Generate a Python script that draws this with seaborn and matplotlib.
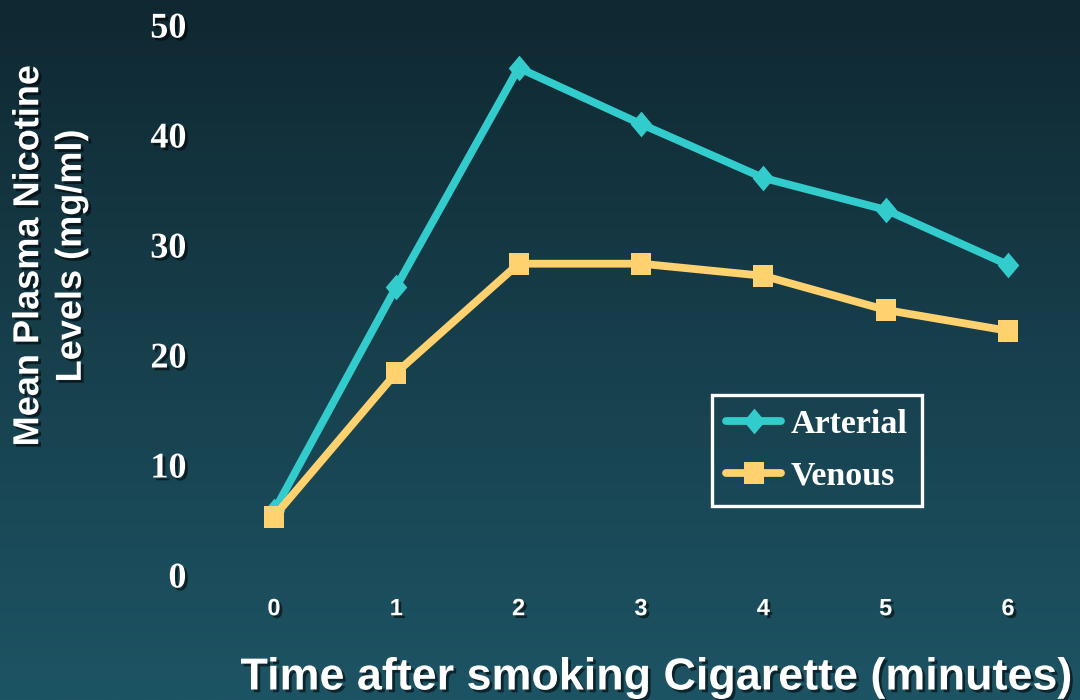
import numpy as np
import matplotlib
matplotlib.use("Agg")
import matplotlib.pyplot as plt
import matplotlib.patheffects as pe
from matplotlib.colors import LinearSegmentedColormap
from matplotlib.path import Path
import seaborn as sns

# Mean plasma nicotine after smoking one cigarette
minutes = [0, 1, 2, 3, 4, 5, 6]
arterial = [5.8, 26.2, 46.1, 41.0, 36.1, 33.2, 28.2]
venous = [5.3, 18.4, 28.3, 28.3, 27.2, 24.1, 22.2]
y_ticks = [0, 10, 20, 30, 40, 50]
series_names = ["Arterial", "Venous"]

sns.set_theme(style="white")
plt.rcParams["font.family"] = ["Liberation Sans", "DejaVu Sans"]

W, H = 1080, 700
fig = plt.figure(figsize=(W / 100, H / 100), dpi=100)

# vertical teal gradient behind everything
bg = fig.add_axes([0, 0, 1, 1], zorder=0)
grad = np.linspace(0, 1, 256).reshape(-1, 1)
cmap = LinearSegmentedColormap.from_list("bg", ["#0f2831", "#173f4c", "#1d5464"])
bg.imshow(grad, aspect="auto", cmap=cmap, extent=[0, 1, 0, 1], origin="upper")
bg.set_axis_off()

# plotting area: x 0..6 maps to px 274..1008, y 0..50 maps to px 575..25
left = 212.8 / W
width = 856.4 / W
bottom = (H - 575) / H
height = 550 / H
ax = fig.add_axes([left, bottom, width, height], zorder=1)
ax.patch.set_alpha(0)

cyan = "#33cccc"
gold = "#ffd16f"

# slightly tall diamond and slightly tall square markers
diamond = Path([(0, 0.5), (0.42, 0), (0, -0.5), (-0.42, 0), (0, 0.5)],
               [Path.MOVETO, Path.LINETO, Path.LINETO, Path.LINETO, Path.CLOSEPOLY])
block = Path([(-0.43, -0.5), (0.43, -0.5), (0.43, 0.5), (-0.43, 0.5), (-0.43, -0.5)],
             [Path.MOVETO, Path.LINETO, Path.LINETO, Path.LINETO, Path.CLOSEPOLY])

sns.lineplot(x=minutes, y=arterial, ax=ax, color=cyan, lw=5.6, marker=diamond,
             ms=18.5, mec=cyan, mew=0, label=series_names[0], clip_on=False, zorder=3)
sns.lineplot(x=minutes, y=venous, ax=ax, color=gold, lw=5.6, marker=block,
             ms=16.5, mec=gold, mew=0, label=series_names[1], clip_on=False, zorder=4)

ax.set_xlim(-0.5, 6.5)
ax.set_ylim(0, 50)
ax.set_xticks(minutes)
ax.set_yticks(y_ticks)
ax.grid(False)
for s in ax.spines.values():
    s.set_visible(False)

shadow = [pe.SimplePatchShadow(offset=(2, -2), shadow_rgbFace="black", alpha=0.55), pe.Normal()]

ax.tick_params(axis="both", length=0)
ax.tick_params(axis="y", pad=19)
ax.tick_params(axis="x", pad=16)
for t in ax.get_yticklabels():
    t.set_fontfamily("Liberation Serif")
    t.set_fontweight("bold")
    t.set_fontsize(26)
    t.set_color("white")
    t.set_path_effects(shadow)
for t in ax.get_xticklabels():
    t.set_fontfamily("Liberation Sans")
    t.set_fontweight("bold")
    t.set_fontsize(17)
    t.set_color("white")
    t.set_path_effects(shadow)

ax.set_xlabel("Time after smoking Cigarette (minutes)", fontsize=32.3,
              fontweight="bold", color="white", va="center", path_effects=shadow)
ax.xaxis.set_label_coords((656 - 212.8) / 856.4, (575 - 678) / 550)

ax.set_ylabel("Mean Plasma Nicotine\nLevels (mg/ml)", fontsize=26,
              fontweight="bold", color="white", va="center", ha="center",
              linespacing=1.28, path_effects=shadow)
ax.yaxis.set_label_coords((50 - 212.8) / 856.4, (575 - 256) / 550)

leg = ax.legend(loc="upper left", bbox_to_anchor=((712 - 212.8) / 856.4, (575 - 395) / 550),
                borderaxespad=0, frameon=True, fancybox=False, framealpha=1,
                handlelength=1.6, handletextpad=0.3, borderpad=0.42, labelspacing=0.6,
                prop={"family": "Liberation Serif", "weight": "bold", "size": 24.5})
frame = leg.get_frame()
frame.set_facecolor("none")
frame.set_edgecolor("white")
frame.set_linewidth(2.4)
for txt in leg.get_texts():
    txt.set_color("white")

fig.savefig("out.png", dpi=100)
